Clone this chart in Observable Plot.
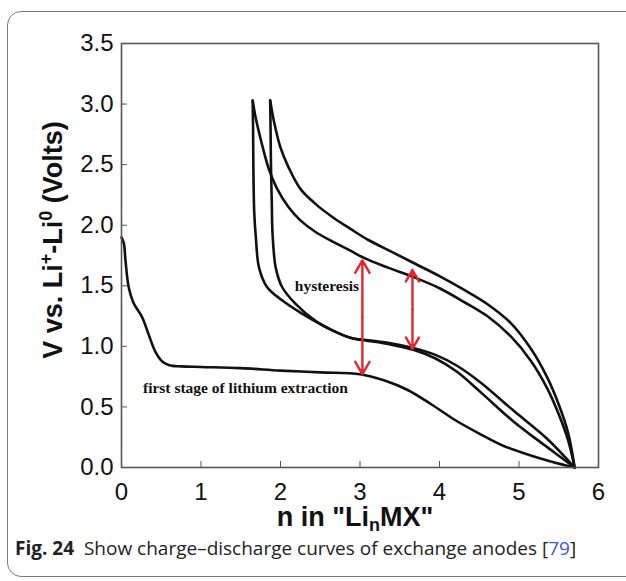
<!DOCTYPE html>
<html><head><meta charset="utf-8">
<script src="https://cdn.jsdelivr.net/npm/d3@7"></script>
<script src="https://cdn.jsdelivr.net/npm/@observablehq/plot@0.6"></script>
<style>
body{margin:0;background:#fff;}
#wrap{position:relative;width:626px;height:581px;overflow:hidden;background:#fff;}
#frame{position:absolute;left:7px;top:11px;width:640px;height:566px;border:1.5px solid #7a7a7a;border-radius:14px;box-sizing:border-box;}
#chart{position:absolute;left:0;top:0;}
#caption{position:absolute;left:15px;top:538px;font-family:"Open Sans";font-size:19px;line-height:20px;color:#222;white-space:nowrap;}
#caption b{font-weight:700;}
#caption .ref{color:#3b5bd6;}
</style></head><body>
<div id="wrap"><div id="frame"></div><div id="chart"></div>
<div id="caption"><b>Fig. 24</b>&nbsp; Show charge–discharge curves of exchange anodes [<span class="ref">79</span>]</div></div>
<script>
// tick values
const xTicks = [0, 1, 2, 3, 4, 5, 6];
const yTicks = [0, 0.5, 1, 1.5, 2, 2.5, 3, 3.5];

// first stage curve
const aX = [0.0, 0.03, 0.05, 0.09, 0.15, 0.26, 0.34, 0.43, 0.52, 0.6, 0.75, 1.0, 1.5, 2.0, 2.5, 3.0, 3.3, 3.6, 3.9, 4.2, 4.5, 4.8, 5.1, 5.4, 5.7];
const aY = [1.9, 1.85, 1.71, 1.49, 1.36, 1.24, 1.10, 0.95, 0.87, 0.845, 0.835, 0.83, 0.82, 0.80, 0.785, 0.77, 0.72, 0.64, 0.52, 0.39, 0.28, 0.18, 0.11, 0.05, 0.0];
// charge curve 1 (peak at 1.65)
const bX = [1.65, 1.69, 1.77, 1.85, 1.95, 2.1, 2.25, 2.45, 2.67, 2.88, 3.05, 3.35, 3.68, 4.0, 4.3, 4.6, 4.9, 5.15, 5.35, 5.5, 5.62, 5.7];
const bY = [3.03, 2.88, 2.66, 2.47, 2.31, 2.15, 2.04, 1.94, 1.86, 1.79, 1.73, 1.65, 1.57, 1.48, 1.37, 1.25, 1.08, 0.88, 0.66, 0.44, 0.22, 0.0];
// charge curve 2 (peak at 1.87)
const cX = [1.87, 1.92, 2.0, 2.1, 2.25, 2.45, 2.67, 2.88, 3.1, 3.4, 3.7, 4.0, 4.3, 4.6, 4.9, 5.15, 5.35, 5.5, 5.62, 5.7];
const cY = [3.03, 2.85, 2.64, 2.48, 2.30, 2.17, 2.06, 1.97, 1.88, 1.78, 1.68, 1.58, 1.47, 1.35, 1.19, 0.98, 0.75, 0.52, 0.28, 0.0];
// discharge curve 1 (from peak at 1.65)
const dX = [1.65, 1.655, 1.66, 1.67, 1.69, 1.73, 1.83, 2.02, 2.27, 2.57, 2.86, 3.05, 3.35, 3.68, 3.95, 4.22, 4.52, 4.93, 5.35, 5.7];
const dY = [3.03, 2.8, 2.4, 2.1, 1.9, 1.65, 1.49, 1.38, 1.27, 1.16, 1.075, 1.05, 1.02, 0.97, 0.90, 0.79, 0.62, 0.38, 0.17, 0.0];
// discharge curve 2 (from peak at 1.87)
const eX = [1.87, 1.875, 1.88, 1.89, 1.9, 1.94, 2.02, 2.19, 2.44, 2.69, 2.94, 3.05, 3.35, 3.68, 3.95, 4.22, 4.52, 4.93, 5.35, 5.7];
const eY = [3.03, 2.8, 2.5, 2.2, 1.93, 1.65, 1.49, 1.35, 1.21, 1.12, 1.06, 1.055, 1.03, 0.985, 0.93, 0.84, 0.70, 0.47, 0.24, 0.0];

// hysteresis arrows
const arrowX = [3.03, 3.66];
const arrowLo = [0.77, 0.98];
const arrowHi = [1.71, 1.63];

// annotations
const noteText = ["hysteresis", "first stage of lithium extraction"];
const noteX = [2.18, 0.27];
const noteY = [1.50, 0.66];

const seriesDefs = [["A", aX, aY], ["B", bX, bY], ["C", cX, cY], ["D", dX, dY], ["E", eX, eY]];
const rows = seriesDefs.flatMap(([s, xs, ys]) => xs.map((x, i) => ({s, x, y: ys[i]})));
const arrows = arrowX.map((x, i) => ({x, lo: arrowLo[i], hi: arrowHi[i], mid: (arrowLo[i] + arrowHi[i]) / 2}));
const notes = noteText.map((t, i) => ({t, x: noteX[i], y: noteY[i]}));

const plot = Plot.plot({
  width: 626, height: 538,
  marginLeft: 121, marginRight: 28, marginTop: 43, marginBottom: 71,
  x: {domain: [0, 6]},
  y: {domain: [0, 3.5]},
  style: {fontFamily: "Liberation Sans", fontSize: "24px", color: "#111", background: "transparent"},
  marks: [
    Plot.line(rows, {x: "x", y: "y", z: "s", stroke: "#111", strokeWidth: 2.6, curve: "catmull-rom"}),
    Plot.arrow(arrows, {x1: "x", x2: "x", y1: "mid", y2: "hi", stroke: "#e2262b", strokeWidth: 2.4, headLength: 9}),
    Plot.arrow(arrows, {x1: "x", x2: "x", y1: "mid", y2: "lo", stroke: "#e2262b", strokeWidth: 2.4, headLength: 9}),
    Plot.text(notes, {x: "x", y: "y", text: "t", textAnchor: "start", fontFamily: "Liberation Serif", fontWeight: "bold", fontSize: 15.5, fill: "#111"}),
    Plot.axisX({ticks: xTicks, tickFormat: d3.format("d"), tickSize: -6, tickPadding: 21, label: null, stroke: "#555"}),
    Plot.axisY({ticks: yTicks, tickFormat: d3.format(".1f"), tickSize: -6, tickPadding: 14, label: null, stroke: "#555"}),
    Plot.frame({stroke: "#555", strokeWidth: 1.6})
  ]
});
document.getElementById("chart").appendChild(plot);

const svg = d3.select(plot);
// y axis label
const yl = svg.append("text")
  .attr("transform", "translate(62,240) rotate(-90)")
  .attr("text-anchor", "middle")
  .attr("font-family", "Liberation Sans").attr("font-weight", "bold").attr("font-size", 27).attr("fill", "#111");
yl.append("tspan").text("V vs. Li");
yl.append("tspan").attr("font-size", 18).attr("dy", -10).text("+");
yl.append("tspan").attr("dy", 10).text("-Li");
yl.append("tspan").attr("font-size", 18).attr("dy", -10).text("0");
yl.append("tspan").attr("dy", 10).text(" (Volts)");
// x axis label
const xl = svg.append("text")
  .attr("x", 355).attr("y", 526)
  .attr("text-anchor", "middle")
  .attr("font-family", "Liberation Sans").attr("font-weight", "bold").attr("font-size", 27).attr("fill", "#111");
xl.append("tspan").text("n in \"Li");
xl.append("tspan").attr("font-size", 18).attr("dy", 5).text("n");
xl.append("tspan").attr("dy", -5).text("MX\"");
</script>
</body></html>
